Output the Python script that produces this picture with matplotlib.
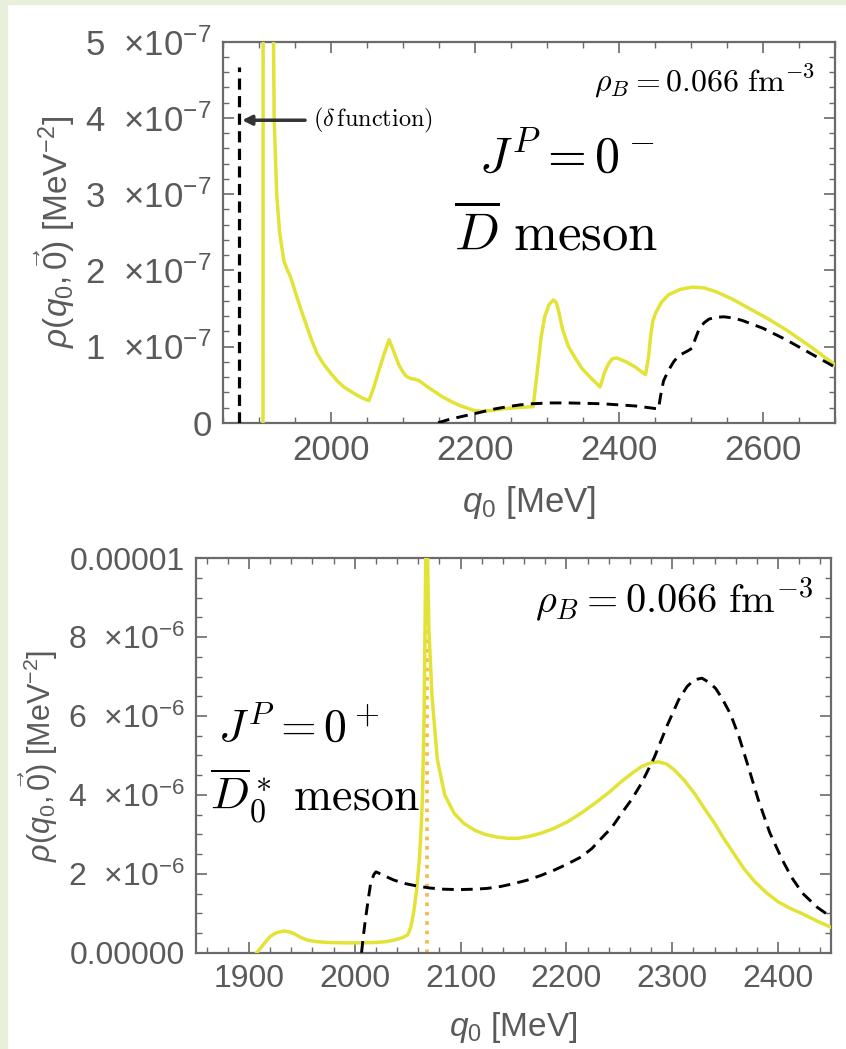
import matplotlib
matplotlib.use('Agg')
import matplotlib.pyplot as plt
from matplotlib.patches import Rectangle
import numpy as np

plt.rcParams['font.family'] = ['Liberation Sans', 'DejaVu Sans']
plt.rcParams['mathtext.fontset'] = 'custom'
plt.rcParams['mathtext.rm'] = 'Liberation Sans'
plt.rcParams['mathtext.it'] = 'Liberation Sans:italic'
plt.rcParams['mathtext.bf'] = 'Liberation Sans:bold'

# ---------------- data: top panel (D-bar meson, J^P = 0^-) ----------------
top_yellow_q0 = [1906, 1906.2, 1919.5, 1920.6, 1921.5, 1925, 1929, 1935, 1940, 1944, 1953,
                 1960, 1967, 1974, 1981, 1990, 2000, 2009, 2018, 2028, 2037, 2045, 2053,
                 2060, 2067, 2074, 2081, 2086, 2090, 2095, 2100, 2105, 2111, 2117,
                 2123, 2133, 2144, 2155, 2167, 2178, 2190, 2200, 2209, 2222, 2237,
                 2258, 2279, 2281, 2284, 2288, 2292, 2297, 2303, 2309, 2313,
                 2316, 2322, 2330, 2340, 2349, 2362, 2374, 2380, 2386, 2391, 2397,
                 2410, 2423, 2437, 2441, 2444, 2447, 2451, 2459, 2469, 2485,
                 2502, 2518, 2535, 2558, 2581, 2606, 2632, 2666, 2700]
top_yellow_rho = [0, 6.0, 6.0, 5.0, 4.0, 3.0, 2.5, 2.12, 2.0, 1.92, 1.65,
                  1.45, 1.26, 1.07, 0.91, 0.77, 0.65, 0.55, 0.47, 0.41, 0.36, 0.32, 0.29,
                  0.47, 0.69, 0.90, 1.09, 0.97, 0.87, 0.75, 0.67, 0.61, 0.58, 0.57,
                  0.55, 0.48, 0.41, 0.34, 0.28, 0.23, 0.19, 0.16, 0.15, 0.16, 0.18,
                  0.20, 0.21, 0.21, 0.45, 0.78, 1.12, 1.39, 1.55, 1.61, 1.58,
                  1.48, 1.22, 1.00, 0.84, 0.71, 0.58, 0.47, 0.66, 0.78, 0.84, 0.85,
                  0.80, 0.73, 0.63, 0.85, 1.13, 1.33, 1.44, 1.58, 1.68, 1.75,
                  1.78, 1.77, 1.72, 1.62, 1.50, 1.37, 1.22, 1.00, 0.76]
top_dash_q0 = [2149, 2165, 2181, 2195, 2209, 2227, 2245, 2263, 2281, 2305, 2330, 2352,
               2374, 2400, 2423, 2440, 2455, 2458, 2462, 2469, 2476, 2483, 2495,
               2502, 2506, 2511, 2518, 2525, 2535, 2546, 2559, 2572, 2600, 2632,
               2666, 2700]
top_dash_rho = [0, 0.045, 0.08, 0.11, 0.14, 0.18, 0.21, 0.235, 0.25, 0.26, 0.26, 0.255,
                0.25, 0.235, 0.22, 0.20, 0.18, 0.36, 0.55, 0.69, 0.80, 0.88, 0.94,
                0.98, 1.10, 1.22, 1.31, 1.36, 1.385, 1.39, 1.375, 1.34, 1.24, 1.09,
                0.91, 0.73]
top_delta_q0 = 1873
top_delta_height = 4.67
top_arrow_tip = (1877, 3.97)
top_arrow_text_pos = (1976, 3.97)

top_xticks = [2000, 2200, 2400, 2600]
top_yticks = [0, 1e-7, 2e-7, 3e-7, 4e-7, 5e-7]
top_yticklabels = ['0', '1  ×10$^{-7}$', '2  ×10$^{-7}$', '3  ×10$^{-7}$',
                   '4  ×10$^{-7}$', '5  ×10$^{-7}$']

# ---------------- data: bottom panel (D0* meson, J^P = 0^+) ----------------
bot_yellow_q0 = [1907.5, 1914, 1920, 1926, 1933, 1938, 1942, 1948, 1955, 1964, 1974,
                 1990, 2005, 2020, 2030, 2037, 2045, 2050, 2053, 2056, 2058.5,
                 2061, 2063, 2064, 2065.5, 2066.5, 2067.2, 2068.5, 2070, 2073, 2078,
                 2085, 2094, 2103, 2113, 2123, 2135, 2145, 2154, 2165, 2176, 2188,
                 2201, 2214, 2227, 2240, 2252, 2262, 2271, 2279, 2287, 2295,
                 2302, 2311, 2321, 2330, 2340, 2349, 2359, 2368, 2378, 2389, 2400,
                 2411, 2422, 2437, 2452]
bot_yellow_rho = [0, 0.22, 0.41, 0.51, 0.55, 0.53, 0.49, 0.40, 0.32, 0.28, 0.26,
                  0.25, 0.25, 0.26, 0.28, 0.32, 0.38, 0.45, 0.65, 1.08, 1.6,
                  2.35, 3.3, 4.0, 6.0, 8.5, 10.5, 10.5, 8.2, 6.5, 4.9,
                  4.0, 3.53, 3.28, 3.11, 3.0, 2.93, 2.90, 2.90, 2.95, 3.03, 3.15,
                  3.32, 3.54, 3.79, 4.06, 4.34, 4.55, 4.72, 4.81, 4.84, 4.78,
                  4.63, 4.38, 4.04, 3.67, 3.28, 2.88, 2.48, 2.12, 1.80, 1.52, 1.29,
                  1.13, 1.00, 0.80, 0.62]
bot_dash_q0 = [2006.4, 2008, 2010, 2013, 2015, 2018, 2020, 2028, 2037, 2048, 2059,
               2071, 2084, 2098, 2113, 2125, 2138, 2150, 2163, 2176, 2189, 2201,
               2214, 2224, 2233, 2243, 2252, 2262, 2271, 2283, 2295, 2306, 2314,
               2321, 2328, 2335, 2341, 2347, 2355, 2363, 2372, 2381, 2392, 2404,
               2413, 2423, 2437, 2452]
bot_dash_rho = [0, 0.40, 0.83, 1.40, 1.76, 1.98, 2.05, 1.95, 1.84, 1.75, 1.69,
                1.64, 1.61, 1.60, 1.61, 1.63, 1.68, 1.75, 1.84, 1.96, 2.10, 2.25,
                2.43, 2.64, 2.90, 3.18, 3.53, 3.90, 4.30, 4.95, 5.75, 6.41, 6.75,
                6.92, 6.96, 6.85, 6.70, 6.45, 6.05, 5.48, 4.70, 3.90, 3.05, 2.35,
                1.90, 1.51, 1.15, 0.87]
bot_pole_q0 = 2068.7

bot_xticks = [1900, 2000, 2100, 2200, 2300, 2400]
bot_yticks = [0, 2e-6, 4e-6, 6e-6, 8e-6, 1e-5]
bot_yticklabels = ['0.00000', '2  ×10$^{-6}$', '4  ×10$^{-6}$', '6  ×10$^{-6}$',
                   '8  ×10$^{-6}$', '0.00001']

yellow = '#e3e337'
gray = '#5a5a5a'


def style_axes(ax, size):
    for s in ax.spines.values():
        s.set_color('#6a6a6a')
        s.set_linewidth(1.6)
    ax.tick_params(which='both', direction='in', top=True, right=True,
                   colors='#6a6a6a', labelcolor=gray, labelsize=size)
    ax.tick_params(which='major', length=8, width=1.2, pad=8)
    ax.tick_params(which='minor', length=4, width=1.0)


fig = plt.figure(figsize=(8.46, 10.49), dpi=100)
fig.add_artist(Rectangle((0, 0), 7 / 846, 1, transform=fig.transFigure,
                         color='#e8f0dc', zorder=-5))
fig.add_artist(Rectangle((0, 1 - 4 / 1049), 1, 4 / 1049, transform=fig.transFigure,
                         color='#e8f0dc', zorder=-5))

# ---- top panel ----
ax1 = fig.add_axes([0.2632, 0.597, 0.7238, 0.3632])
ax1.plot(top_yellow_q0, np.array(top_yellow_rho) * 1e-7, color=yellow, lw=2.5, zorder=3,
         solid_joinstyle='round')
ax1.plot(top_dash_q0, np.array(top_dash_rho) * 1e-7, color='black', lw=2.1,
         ls=(0, (4, 2.5)), zorder=4)
ax1.plot([top_delta_q0, top_delta_q0], [0, top_delta_height * 1e-7], color='black',
         lw=2.3, ls=(0, (3.5, 2)), zorder=4)
ax1.annotate(r'$(\delta\,\mathrm{function})$', xy=(top_arrow_tip[0], top_arrow_tip[1] * 1e-7),
             xytext=(top_arrow_text_pos[0], top_arrow_text_pos[1] * 1e-7),
             ha='left', va='center', fontsize=17.5, math_fontfamily='cm',
             arrowprops=dict(arrowstyle='-|>', color='#333333', lw=2.5,
                             mutation_scale=14, shrinkA=4, shrinkB=0))
ax1.set_xlim(1850, 2700)
ax1.set_ylim(0, 5e-7)
ax1.set_xticks(top_xticks)
ax1.set_xticks(np.arange(1850, 2701, 50), minor=True)
ax1.set_yticks(top_yticks)
ax1.set_yticklabels(top_yticklabels)
ax1.set_yticks(np.arange(0, 5.01e-7, 0.2e-7), minor=True)
style_axes(ax1, 25)
ax1.set_xlabel(r'$q_0$ [MeV]', fontsize=25, color=gray, labelpad=12)
ax1.set_ylabel(r'$\rho(q_0,\vec{0})$ [MeV$^{-2}$]', fontsize=24, color=gray, labelpad=6)
ax1.text(0.967, 0.869, r'$\rho_B = 0.066\ \mathrm{fm}^{-3}$', transform=ax1.transAxes,
         ha='right', va='baseline', fontsize=23, math_fontfamily='cm')
ax1.text(0.561, 0.658, r'$J^P = 0^-$', transform=ax1.transAxes,
         ha='center', va='baseline', fontsize=36, math_fontfamily='cm')
ax1.text(0.544, 0.453, r'$\overline{D}\ \mathrm{meson}$', transform=ax1.transAxes,
         ha='center', va='baseline', fontsize=38, math_fontfamily='cm')

# ---- bottom panel ----
ax2 = fig.add_axes([0.2317, 0.0918, 0.7506, 0.376])
ax2.plot([bot_pole_q0, bot_pole_q0], [0, 1e-5], color='#f7b84a', lw=2.6,
         ls=(0, (1, 1.6)), zorder=2)
ax2.plot(bot_yellow_q0, np.array(bot_yellow_rho) * 1e-6, color=yellow, lw=2.5, zorder=3,
         solid_joinstyle='round')
ax2.plot(bot_dash_q0, np.array(bot_dash_rho) * 1e-6, color='black', lw=2.1,
         ls=(0, (4, 2.5)), zorder=4)
ax2.set_xlim(1850, 2450)
ax2.set_ylim(0, 1e-5)
ax2.set_xticks(bot_xticks)
ax2.set_xticks(np.arange(1860, 2451, 20), minor=True)
ax2.set_yticks(bot_yticks)
ax2.set_yticklabels(bot_yticklabels)
ax2.set_yticks(np.arange(0, 1.001e-5, 0.5e-6), minor=True)
style_axes(ax2, 23)
ax2.set_xlabel(r'$q_0$ [MeV]', fontsize=24, color=gray, labelpad=12)
ax2.set_ylabel(r'$\rho(q_0,\vec{0})$ [MeV$^{-2}$]', fontsize=22, color=gray, labelpad=6)
ax2.text(0.972, 0.861, r'$\rho_B = 0.066\ \mathrm{fm}^{-3}$', transform=ax2.transAxes,
         ha='right', va='baseline', fontsize=29, math_fontfamily='cm')
ax2.text(0.035, 0.535, r'$J^P = 0^+$', transform=ax2.transAxes,
         ha='left', va='baseline', fontsize=33, math_fontfamily='cm')
ax2.text(0.022, 0.362, r'$\overline{D}_0^*\ \mathrm{meson}$', transform=ax2.transAxes,
         ha='left', va='baseline', fontsize=33, math_fontfamily='cm')

fig.savefig('out.png', dpi=100, facecolor='white')
